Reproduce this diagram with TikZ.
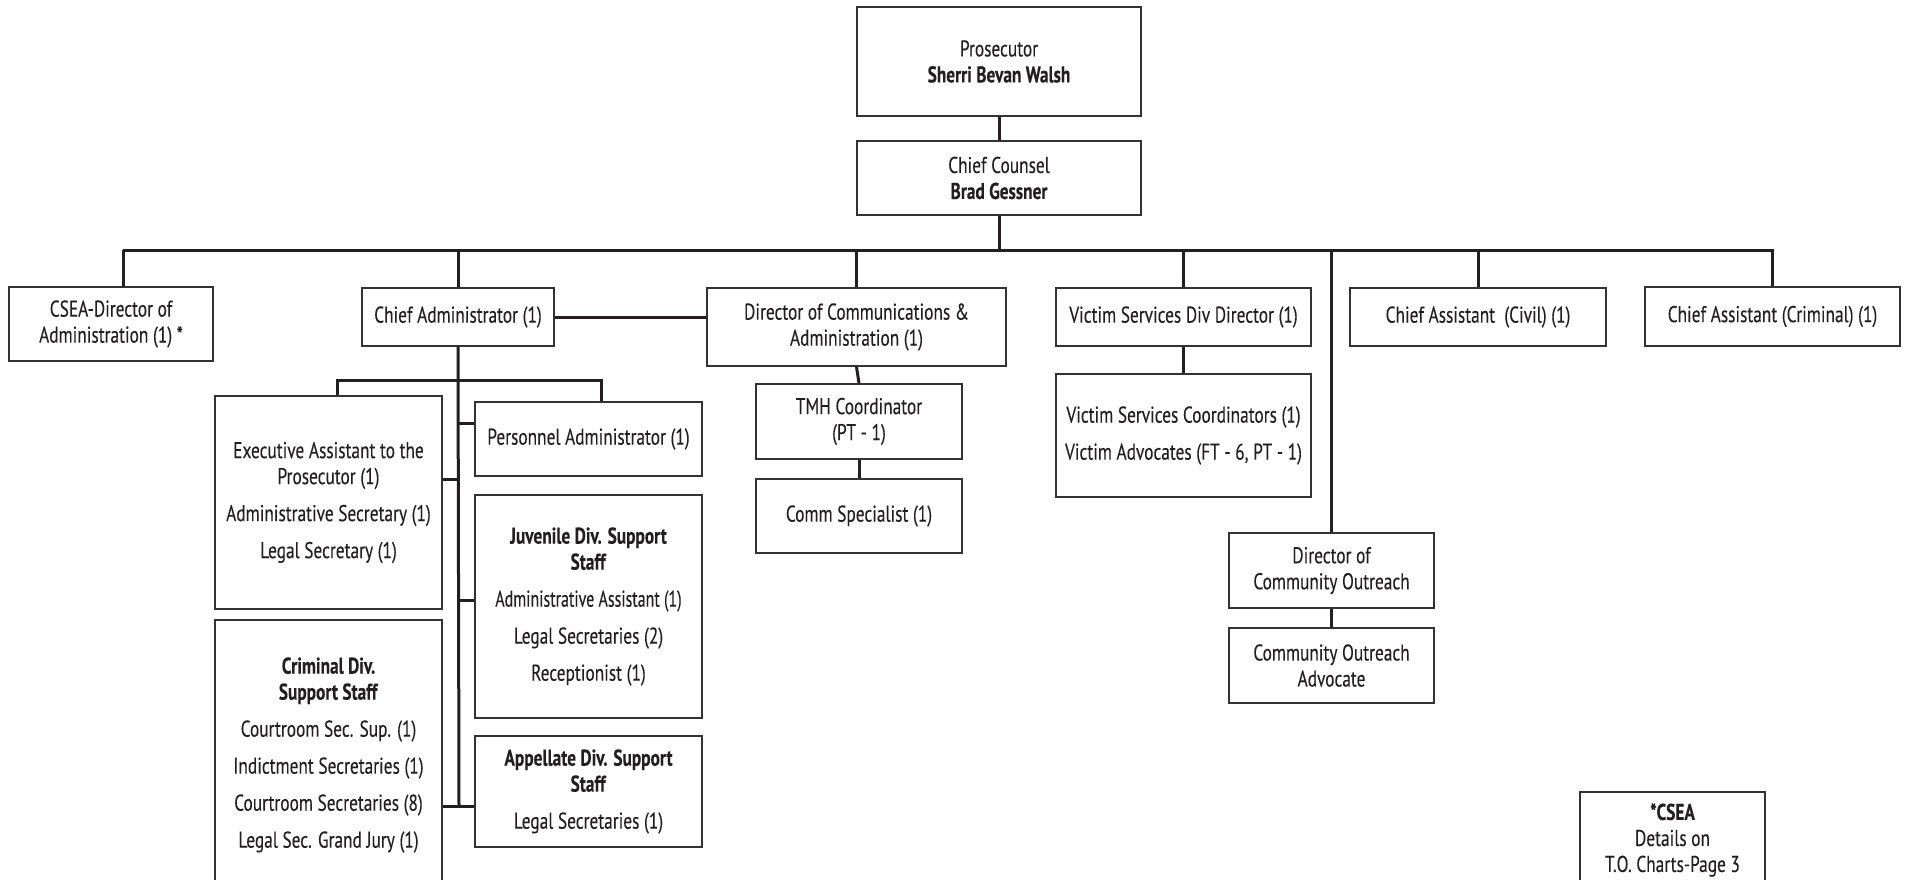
\documentclass[tikz,border=0pt]{standalone}
\usepackage{fontspec}
\setmainfont{PT Sans}[FakeStretch=0.76, FakeBold=0.15]
\usetikzlibrary{calc}
\definecolor{ink}{HTML}{231F20}
\definecolor{edge}{HTML}{333333}
% one org-chart box: name, centre x, centre y, width, height, text
\newcommand\orgbox[6]{%
  \node[box, minimum width=#4*0.5pt, minimum height=#5*0.5pt] (#1) at (#2,#3) {#6};}
\begin{document}
\begin{tikzpicture}[x=0.5pt,y=-0.5pt,
  box/.style={draw=edge, line width=0.75pt, rectangle, align=center, inner sep=0pt,
              text=ink, font=\fontsize{11.4}{13}\selectfont},
  link/.style={draw=ink, line width=1.5pt}]
\path[fill=white, use as bounding box] (0,0) rectangle (1906,879);

% top of the chart
\orgbox{pros}{999}{61.5}{284}{109}{Prosecutor\\\textbf{Sherri Bevan Walsh}}
\orgbox{cc}{999}{178}{284}{74}{Chief Counsel\\\textbf{Brad Gessner}}

% first row under the chief counsel
\orgbox{cseadir}{111}{324}{204}{74}{CSEA-Director of\\Administration (1) *}
\orgbox{cadmin}{458}{317}{192}{58}{Chief Administrator (1)}
\orgbox{dircomm}{856.5}{327}{299}{78}{Director of Communications \&\\Administration (1)}
\orgbox{vsdd}{1183.5}{317}{255}{58}{Victim Services Div Director (1)}
\orgbox{civil}{1478}{317}{256}{58}{Chief Assistant\ \ (Civil) (1)}
\orgbox{crim}{1772.5}{316.5}{255}{59}{Chief Assistant (Criminal) (1)}

% staff under the chief administrator
\orgbox{exec}{328.5}{502.5}{227}{213}{Executive Assistant to the\\Prosecutor (1)\\[5.5pt]Administrative Secretary (1)\\[5.5pt]Legal Secretary (1)}
\orgbox{pers}{588.5}{439}{227}{74}{Personnel Administrator (1)}
\orgbox{juv}{588.5}{606.5}{227}{223}{\textbf{Juvenile Div. Support}\\\textbf{Staff}\\[5.5pt]{\addfontfeature{FakeStretch=0.7}Administrative Assistant (1)}\\[5.5pt]Legal Secretaries (2)\\[5.5pt]Receptionist (1)}
\orgbox{crimdiv}{328.5}{755}{227}{270}{\textbf{Criminal Div.}\\\textbf{Support Staff}\\[5.5pt]Courtroom Sec. Sup. (1)\\[5.5pt]Indictment Secretaries (1)\\[5.5pt]Courtroom Secretaries (8)\\[5.5pt]Legal Sec. Grand Jury (1)}
\orgbox{appel}{588.5}{791.5}{227}{111}{\textbf{Appellate Div. Support}\\\textbf{Staff}\\[5.5pt]Legal Secretaries (1)}

% communications branch
\orgbox{tmh}{859}{421.5}{206}{75}{TMH Coordinator\\(PT - 1)}
\orgbox{commspec}{859}{516}{206}{74}{Comm Specialist (1)}

% victim services branch
\orgbox{vsub}{1183.5}{435.5}{255}{123}{Victim Services Coordinators (1)\\[5.5pt]Victim Advocates (FT - 6, PT - 1)}

% community outreach branch
\orgbox{dco}{1331.5}{570.5}{205}{75}{Director of\\Community Outreach}
\orgbox{coa}{1331.5}{665.5}{205}{75}{Community Outreach\\Advocate}

% footnote box
\orgbox{note}{1672.5}{840}{185}{96}{\textbf{*CSEA}\\Details on\\T.O. Charts-Page 3}

% main bus
\coordinate (busL) at (123,250);
\coordinate (busR) at (1774,250);
\coordinate (cseaTop) at (123,287);
\draw[link] (pros.south) -- (cc.north);
\draw[link] (cc.south) -- (cc.south |- busL);
\draw[link] (busL) -- (busR);
\draw[link] (cseaTop) -- (busL);
\draw[link] (cadmin.north) -- (cadmin.north |- busL);
\draw[link] (dircomm.north) -- (dircomm.north |- busL);
\draw[link] (vsdd.north) -- (vsdd.north |- busL);
\draw[link] (dco.north) -- (dco.north |- busL);
\draw[link] (civil.north) -- (civil.north |- busL);
\draw[link] (crim.north) -- (crim.north |- busL);

% chief administrator to communications director
\draw[link] (cadmin.east) -- (cadmin.east -| dircomm.west);

% chief administrator spine and its branches
\coordinate (sbL) at (337,380);
\coordinate (sbR) at (601,380);
\coordinate (tExec) at (459,479);
\coordinate (tPers) at (459,423);
\coordinate (tJuv) at (459,600);
\coordinate (tLow) at (459,806);
\draw[link] (cadmin.south) -- (tLow);
\draw[link] (sbL |- exec.north) -- (sbL) -- (sbR) -- (sbR |- pers.north);
\draw[link] (exec.east |- tExec) -- (tExec);
\draw[link] (pers.west |- tPers) -- (tPers);
\draw[link] (juv.west |- tJuv) -- (tJuv);
\draw[link] (crimdiv.east |- tLow) -- (appel.west |- tLow);

% remaining vertical links
\draw[link] (dircomm.south) -- (tmh.north);
\draw[link] (tmh.south) -- (commspec.north);
\draw[link] (vsdd.south) -- (vsub.north);
\draw[link] (dco.south) -- (coa.north);
\end{tikzpicture}
\end{document}
